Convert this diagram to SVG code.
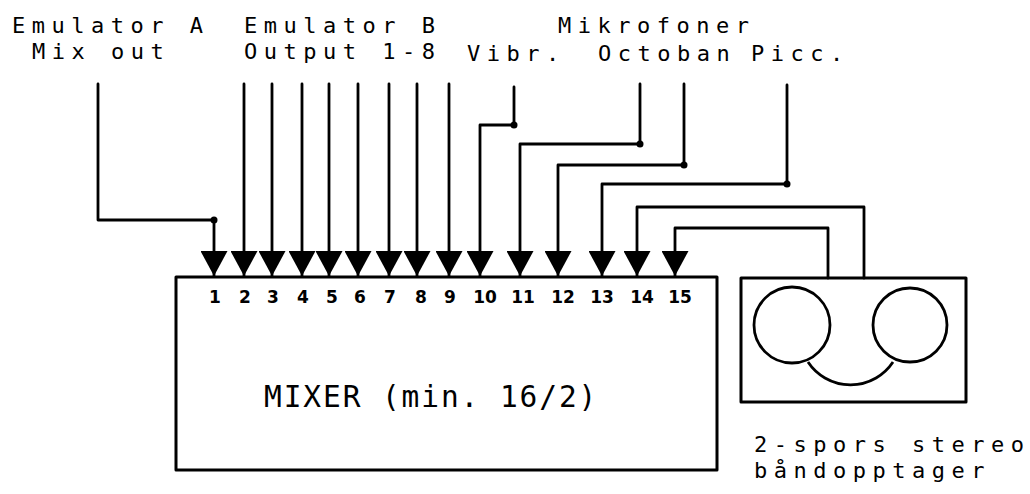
<svg xmlns="http://www.w3.org/2000/svg" width="1030" height="494" viewBox="0 0 1030 494">
  <style>
    .lbl { font-family: "DejaVu Sans Mono", "Liberation Mono", monospace; font-size: 22px; letter-spacing: 6.5px; fill: #000; }
    .big { font-family: "DejaVu Sans Mono", "Liberation Mono", monospace; font-size: 29.5px; letter-spacing: 1.9px; fill: #000; }
    .num { font-family: "DejaVu Sans", "Liberation Sans", sans-serif; font-size: 17px; font-weight: bold; fill: #000; text-anchor: middle; }
    .box { fill: none; stroke: #000; stroke-width: 3; stroke-linejoin: round; }
    .wire { fill: none; stroke: #000; stroke-width: 2.8; stroke-linejoin: round; stroke-linecap: round; marker-end: url(#ah); }
    .plain { fill: none; stroke: #000; stroke-width: 2.8; }
    .dot { fill: #000; }
  </style>
  <defs>
    <marker id="ah" markerUnits="userSpaceOnUse" viewBox="0 0 25 27" markerWidth="25" markerHeight="27" refX="25" refY="13.5" orient="auto">
      <path d="M0,0 L25,13.5 L0,27 z" fill="#000"/>
    </marker>
  </defs>
  <rect width="1030" height="494" fill="#fff"/>

  <g id="labels">
    <text class="lbl" x="12" y="33">Emulator A</text>
    <text class="lbl" x="32" y="59">Mix out</text>
    <text class="lbl" x="244" y="33">Emulator B</text>
    <text class="lbl" x="244" y="59">Output 1-8</text>
    <text class="lbl" x="558" y="33">Mikrofoner</text>
    <text class="lbl" x="467" y="61">Vibr.</text>
    <text class="lbl" x="598" y="61">Octoban</text>
    <text class="lbl" x="751" y="61">Picc.</text>
  </g>

  <g id="mixer">
    <rect class="box" x="176" y="277" width="541" height="193"/>
    <text class="num" x="215" y="303">1</text>
    <text class="num" x="245" y="303">2</text>
    <text class="num" x="273" y="303">3</text>
    <text class="num" x="303" y="303">4</text>
    <text class="num" x="332" y="303">5</text>
    <text class="num" x="360" y="303">6</text>
    <text class="num" x="390" y="303">7</text>
    <text class="num" x="421" y="303">8</text>
    <text class="num" x="450" y="303">9</text>
    <text class="num" x="485" y="303">10</text>
    <text class="num" x="523" y="303">11</text>
    <text class="num" x="563" y="303">12</text>
    <text class="num" x="602" y="303">13</text>
    <text class="num" x="642" y="303">14</text>
    <text class="num" x="680" y="303">15</text>
    <text class="big" x="264" y="407">MIXER (min. 16/2)</text>
  </g>

  <g id="tape">
    <rect class="box" x="741" y="278" width="225" height="124"/>
    <circle class="plain" cx="792" cy="325" r="38"/>
    <circle class="plain" cx="910" cy="325" r="37"/>
    <path class="plain" d="M808,362 A51,51 0 0 0 893,362"/>
    <text class="lbl" x="754" y="452">2-spors stereo</text>
    <text class="lbl" x="754" y="478">båndopptager</text>
  </g>

  <g id="connectors">
    <path class="wire" d="M98,84 V220 H214 V276"/>
    <path class="wire" d="M244,84 V276"/>
    <path class="wire" d="M272,84 V276"/>
    <path class="wire" d="M302,84 V276"/>
    <path class="wire" d="M329,84 V276"/>
    <path class="wire" d="M358,84 V276"/>
    <path class="wire" d="M389,84 V276"/>
    <path class="wire" d="M417,84 V276"/>
    <path class="wire" d="M449,84 V276"/>
    <path class="wire" d="M514,87 V125 H480 V276"/>
    <path class="wire" d="M640,84 V144 H520 V276"/>
    <path class="wire" d="M684,84 V165 H558 V276"/>
    <path class="wire" d="M787,85 V184 H602 V276"/>
    <path class="wire" d="M864,278 V207 H637 V276"/>
    <path class="wire" d="M828,278 V228 H675 V276"/>
    <circle class="dot" cx="214" cy="220" r="3.5"/>
    <circle class="dot" cx="514" cy="125" r="3.5"/>
    <circle class="dot" cx="640" cy="144" r="3.5"/>
    <circle class="dot" cx="684" cy="165" r="3.5"/>
    <circle class="dot" cx="787" cy="184" r="3.5"/>
  </g>
</svg>
